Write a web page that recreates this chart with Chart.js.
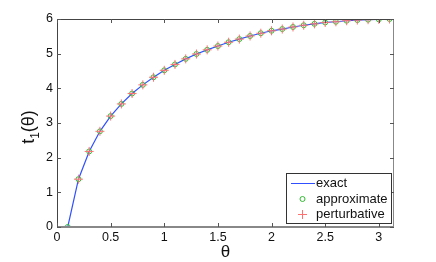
<!DOCTYPE html>
<html><head><meta charset="utf-8">
<script src="https://cdn.jsdelivr.net/npm/chart.js@4/dist/chart.umd.min.js"></script>
<style>html,body{margin:0;padding:0;background:#fff}#wrap{width:436px;height:262px}</style>
</head><body><div id="wrap"><canvas id="c" width="436" height="262"></canvas></div>
<script>
const theta = [0.1,0.2,0.3,0.4,0.5,0.6,0.7,0.8,0.9,1.0,1.1,1.2,1.3,1.4,1.5,1.6,1.7,1.8,1.9,2.0,2.1,2.2,2.3,2.4,2.5,2.6,2.7,2.8,2.9,3.0,3.1];
const exactVals = [0,1.38,2.18,2.76,3.20,3.55,3.85,4.10,4.32,4.52,4.69,4.85,4.99,5.11,5.22,5.33,5.42,5.51,5.59,5.66,5.71,5.77,5.82,5.86,5.90,5.92,5.95,5.97,5.98,5.99,6.0];
const approxVals = [0,1.38,2.18,2.76,3.20,3.55,3.85,4.10,4.32,4.52,4.69,4.85,4.99,5.11,5.22,5.33,5.42,5.51,5.59,5.66,5.71,5.77,5.82,5.86,5.90,5.92,5.95,5.97,5.98,5.99,6.0];
const pertVals = [null,1.38,2.18,2.76,3.20,3.55,3.85,4.10,4.32,4.52,4.69,4.85,4.99,5.11,5.22,5.33,5.42,5.51,5.59,5.66,5.71,5.77,5.82,5.86,5.90,5.92,5.95,5.97,5.98,5.99,6.0];
const xTicks = [0,0.5,1,1.5,2,2.5,3];
const yTicks = [0,1,2,3,4,5,6];
const seriesNames = ['exact','approximate','perturbative'];

const pts = v => theta.map((t,i)=>({x:t,y:v[i]})).filter(p=>p.y!==null);
const FONT = '"Liberation Sans", Arial, sans-serif';
const L=57, R=394, T=19, B=227;

const frame = {
  id:'frame',
  afterDraw(chart){
    const ctx=chart.ctx, xs=chart.scales.x, ys=chart.scales.y;
    const a=chart.chartArea;
    ctx.save();
    ctx.lineWidth=1;
    ctx.strokeStyle='#444';
    ctx.beginPath();
    ctx.moveTo(a.left+0.5,a.bottom); ctx.lineTo(a.left+0.5,a.top+0.5); ctx.lineTo(a.right,a.top+0.5);
    ctx.stroke();
    ctx.strokeStyle='#888';
    ctx.beginPath(); ctx.moveTo(a.right-0.5,a.top); ctx.lineTo(a.right-0.5,a.bottom); ctx.stroke();
    ctx.lineWidth=2;
    ctx.beginPath(); ctx.moveTo(a.left,a.bottom); ctx.lineTo(a.right,a.bottom); ctx.stroke();
    ctx.lineWidth=1; ctx.strokeStyle='#555';
    const tl=4;
    xTicks.forEach(v=>{const px=Math.round(xs.getPixelForValue(v))+0.5;
      ctx.beginPath();ctx.moveTo(px,a.bottom);ctx.lineTo(px,a.bottom-tl);ctx.moveTo(px,a.top);ctx.lineTo(px,a.top+tl);ctx.stroke();});
    yTicks.forEach(v=>{const py=Math.round(ys.getPixelForValue(v))+0.5;
      ctx.beginPath();ctx.moveTo(a.left,py);ctx.lineTo(a.left+tl,py);ctx.moveTo(a.right,py);ctx.lineTo(a.right-tl,py);ctx.stroke();});
    // tick labels
    ctx.fillStyle='#111'; ctx.font='12.5px '+FONT;
    ctx.textAlign='right'; ctx.textBaseline='middle';
    yTicks.forEach(v=>ctx.fillText(String(v),a.left-4,ys.getPixelForValue(v)));
    ctx.textAlign='center'; ctx.textBaseline='top';
    xTicks.forEach(v=>ctx.fillText(String(v),xs.getPixelForValue(v),a.bottom+4));
    // axis titles
    ctx.font='17px '+FONT; ctx.textBaseline='alphabetic';
    ctx.fillText('\u03b8',(a.left+a.right)/2,a.bottom+30);
    ctx.save();
    ctx.translate(34,(a.top+a.bottom)/2+4); ctx.rotate(-Math.PI/2);
    ctx.textAlign='left';
    ctx.font='18px '+FONT; const w1=ctx.measureText('t').width;
    ctx.font='12px '+FONT; const w2=ctx.measureText('1').width;
    ctx.font='18px '+FONT; const w3=ctx.measureText('(\u03b8)').width;
    let x0=-(w1+w2+w3)/2;
    ctx.fillText('t',x0,0);
    ctx.font='12px '+FONT; ctx.fillText('1',x0+w1,5);
    ctx.font='18px '+FONT; ctx.fillText('(\u03b8)',x0+w1+w2,0);
    ctx.restore();
    // legend
    const lx=286, ly=173, lw=105, lh=50;
    ctx.fillStyle='#fff'; ctx.fillRect(lx,ly,lw,lh);
    ctx.strokeStyle='#333'; ctx.lineWidth=1; ctx.strokeRect(lx+0.5,ly+0.5,lw,lh);
    const rows=[183,199,214.5];
    ctx.font='13px '+FONT; ctx.fillStyle='#111'; ctx.textAlign='left'; ctx.textBaseline='middle';
    seriesNames.forEach((n,i)=>ctx.fillText(n,316,rows[i]));
    ctx.strokeStyle='#3050ff'; ctx.beginPath(); ctx.moveTo(291,rows[0]+0.5); ctx.lineTo(315,rows[0]+0.5); ctx.stroke();
    ctx.strokeStyle='#33bb33'; ctx.beginPath(); ctx.arc(302.5,rows[1],2.5,0,Math.PI*2); ctx.stroke();
    ctx.strokeStyle='#ff7070'; ctx.beginPath(); ctx.moveTo(298,rows[2]); ctx.lineTo(307,rows[2]); ctx.moveTo(302.5,rows[2]-4.5); ctx.lineTo(302.5,rows[2]+4.5); ctx.stroke();
    ctx.restore();
  }
};

new Chart(document.getElementById('c'),{
  type:'scatter',
  data:{datasets:[
    {label:seriesNames[0],data:pts(exactVals),showLine:true,borderColor:'#3050ff',borderWidth:1.2,pointRadius:0,order:3},
    {label:seriesNames[1],data:pts(approxVals),showLine:false,pointStyle:'circle',pointRadius:2.5,borderColor:'#33bb33',backgroundColor:'rgba(0,0,0,0)',borderWidth:1,order:2},
    {label:seriesNames[2],data:pts(pertVals),showLine:false,pointStyle:'cross',pointRadius:4.5,borderColor:'#ff7070',borderWidth:1,order:1}
  ]},
  options:{
    responsive:false,animation:false,
    layout:{padding:{left:0,right:436-R,top:T,bottom:0}},
    plugins:{legend:{display:false},tooltip:{enabled:false}},
    scales:{
      x:{type:'linear',min:0,max:Math.PI,grid:{display:false},border:{display:false},ticks:{display:false},
         afterFit(s){s.height=262-B;}},
      y:{type:'linear',min:0,max:6,grid:{display:false},border:{display:false},ticks:{display:false},
         afterFit(s){s.width=L;}}
    }
  },
  plugins:[frame]
});
</script></body></html>
